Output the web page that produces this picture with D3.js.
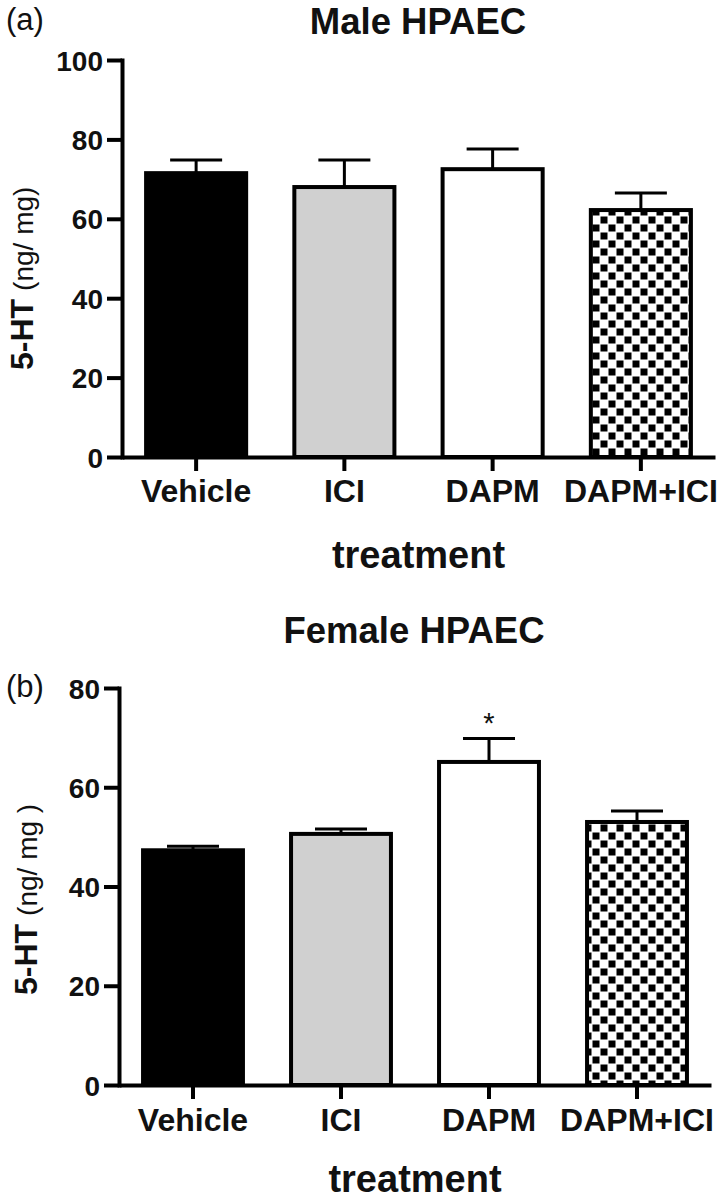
<!DOCTYPE html>
<html>
<head>
<meta charset="utf-8">
<script src="https://cdn.jsdelivr.net/npm/d3@7/dist/d3.min.js"></script>
<style>
  html, body { margin: 0; padding: 0; background: #fff; }
  svg { display: block; }
  text { font-family: "Liberation Sans", Arial, Helvetica, sans-serif; fill: #111; }
</style>
</head>
<body>
<script>
// ---------- data ----------
const categories = ["Vehicle", "ICI", "DAPM", "DAPM+ICI"];
const maleMeans = [71.5, 68.0, 72.5, 62.2];
const maleErrors = [3.3, 6.8, 5.1, 4.3];
const femaleMeans = [47.3, 50.6, 65.1, 53.0];
const femaleErrors = [0.8, 1.0, 4.7, 2.2];
const femaleMarks = ["", "", "*", ""];
const maleMarks = ["", "", "", ""];
const maleTicks = [0, 20, 40, 60, 80, 100];
const femaleTicks = [0, 20, 40, 60, 80];
const barFills = ["#000000", "#d0d0d0", "#ffffff", "url(#checker)"];

const W = 724, H = 1199;
const svg = d3.select("body").append("svg").attr("width", W).attr("height", H);

// checkerboard pattern
const defs = svg.append("defs");
const pat = defs.append("pattern").attr("id", "checker")
  .attr("patternUnits", "userSpaceOnUse").attr("width", 16).attr("height", 16);
pat.append("rect").attr("width", 16).attr("height", 16).attr("fill", "#fff");
pat.append("rect").attr("x", 0.5).attr("y", 0.5).attr("width", 7).attr("height", 7).attr("fill", "#000");
pat.append("rect").attr("x", 8.5).attr("y", 8.5).attr("width", 7).attr("height", 7).attr("fill", "#000");

function panel(cfg) {
  const g = svg.append("g");
  const x = d3.scaleBand().domain(categories).range([cfg.x0, cfg.x1])
    .paddingInner(0.325).paddingOuter(0.1625);
  const y = d3.scaleLinear().domain([0, cfg.yMax]).range([cfg.yBottom, cfg.yTop]);

  // bars
  g.selectAll("rect.bar").data(categories).join("rect")
    .attr("class", "bar")
    .attr("x", d => x(d))
    .attr("width", x.bandwidth())
    .attr("y", (d, i) => y(cfg.means[i]))
    .attr("height", (d, i) => y(0) - y(cfg.means[i]))
    .attr("fill", (d, i) => barFills[i])
    .attr("stroke", "#000").attr("stroke-width", 4);

  // error bars (upper only)
  const capW = 52;
  const eb = g.selectAll("g.err").data(categories).join("g").attr("class", "err");
  eb.append("line")
    .attr("x1", d => x(d) + x.bandwidth() / 2).attr("x2", d => x(d) + x.bandwidth() / 2)
    .attr("y1", (d, i) => y(cfg.means[i])).attr("y2", (d, i) => y(cfg.means[i] + cfg.errors[i]))
    .attr("stroke", "#000").attr("stroke-width", 3);
  eb.append("line")
    .attr("x1", d => x(d) + x.bandwidth() / 2 - capW / 2).attr("x2", d => x(d) + x.bandwidth() / 2 + capW / 2)
    .attr("y1", (d, i) => y(cfg.means[i] + cfg.errors[i])).attr("y2", (d, i) => y(cfg.means[i] + cfg.errors[i]))
    .attr("stroke", "#000").attr("stroke-width", 3);

  // significance marks
  g.selectAll("text.sig").data(categories).join("text")
    .attr("class", "sig")
    .attr("x", d => x(d) + x.bandwidth() / 2)
    .attr("y", (d, i) => y(cfg.means[i] + cfg.errors[i]) - 6)
    .attr("text-anchor", "middle")
    .style("font-size", "29px")
    .text((d, i) => cfg.marks[i]);

  // y axis
  const ya = g.append("g").attr("transform", `translate(${cfg.x0},0)`)
    .call(d3.axisLeft(y).tickValues(cfg.ticks).tickSize(15).tickPadding(4).tickSizeOuter(0).tickFormat(d3.format("d")));
  ya.select(".domain").attr("stroke-width", 4).attr("stroke-linecap", "square");
  ya.selectAll(".tick line").attr("stroke-width", 4);
  ya.selectAll(".tick text").style("font-size", "28px").style("font-weight", "bold")
    .attr("fill", "#111").attr("dy", "0.36em");

  // x axis
  const xa = g.append("g").attr("transform", `translate(0,${cfg.yBottom})`)
    .call(d3.axisBottom(x).tickSize(14).tickPadding(cfg.labelPad).tickSizeOuter(0));
  xa.select(".domain").attr("stroke-width", 4);
  xa.selectAll(".tick line").attr("stroke-width", 4);
  xa.selectAll(".tick text").style("font-size", "32px").style("font-weight", "bold").attr("fill", "#111");

  // title
  g.append("text").attr("x", cfg.titleX).attr("y", cfg.titleY).attr("text-anchor", "middle")
    .style("font-size", "36.5px").style("font-weight", "bold").text(cfg.title);

  // x axis title
  g.append("text").attr("x", (cfg.x0 + cfg.x1) / 2).attr("y", cfg.xTitleY).attr("text-anchor", "middle")
    .style("font-size", "38px").style("font-weight", "bold").text("treatment");

  // y axis title
  const yt = g.append("text").attr("transform", `translate(${cfg.yTitleX},${cfg.yTitleY}) rotate(-90)`)
    .attr("text-anchor", "start");
  yt.append("tspan").style("font-size", "32px").style("font-weight", "bold").text("5-HT");
  yt.append("tspan").style("font-size", "28px").attr("dx", 8).text(cfg.unit);

  // panel letter
  g.append("text").attr("x", 6).attr("y", cfg.letterY).style("font-size", "31px").text(cfg.letter);
}

panel({
  x0: 122, x1: 715, yTop: 60, yBottom: 457, yMax: 100,
  means: maleMeans, errors: maleErrors, marks: maleMarks, ticks: maleTicks,
  title: "Male HPAEC", titleX: 418, titleY: 34, xTitleY: 568, labelPad: 8,
  yTitleX: 33, yTitleY: 370, unit: "(ng/ mg)", letter: "(a)", letterY: 30
});

panel({
  x0: 119, x1: 711, yTop: 688, yBottom: 1085, yMax: 80,
  means: femaleMeans, errors: femaleErrors, marks: femaleMarks, ticks: femaleTicks,
  title: "Female HPAEC", titleX: 414, titleY: 643, xTitleY: 1192, labelPad: 9,
  yTitleX: 37, yTitleY: 995, unit: "(ng/ mg )", letter: "(b)", letterY: 697
});
</script>
</body>
</html>
